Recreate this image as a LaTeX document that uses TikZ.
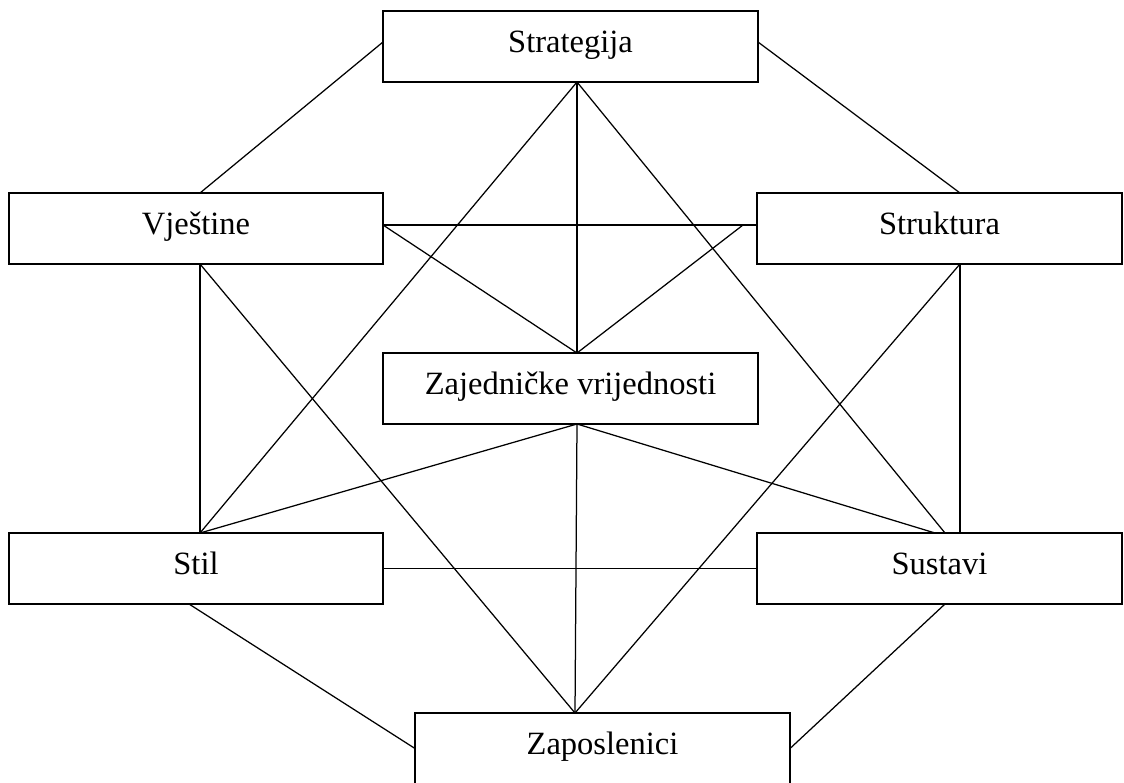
\documentclass[tikz,border=0pt]{standalone}
\usepackage{fontspec}
\setmainfont{Liberation Serif}
\pgfdeclarelayer{background}
\pgfsetlayers{background,main}
\begin{document}
\begin{tikzpicture}[x=1pt,y=-1pt,
  box/.style={draw, line width=1.8pt, fill=white, inner sep=0pt, outer sep=0pt,
    minimum height=71pt, text height=22pt, text depth=11pt,
    font=\fontsize{32.5}{38}\selectfont},
  link/.style={line width=1.25pt}]
\useasboundingbox (0,0) rectangle (1124,782);
\path
  (570.5,46.5) node[box, minimum width=375pt] (strat) {Strategija}
  (196,228.5)  node[box, minimum width=374pt] (vjest) {Vještine}
  (939.5,228.5) node[box, minimum width=365pt] (strukt) {Struktura}
  (570.5,388.5) node[box, minimum width=375pt] (zaj) {Zajedničke vrijednosti}
  (196,568.5)  node[box, minimum width=374pt] (stil) {Stil}
  (939.5,568.5) node[box, minimum width=365pt] (sus) {Sustavi}
  (602.5,748.5) node[box, minimum width=375pt] (zap) {Zaposlenici};
% connection points
\coordinate (sb) at ([xshift=6.5pt]strat.south);
\coordinate (zt) at ([xshift=6.5pt]zaj.north);
\coordinate (zb) at ([xshift=6.5pt]zaj.south);
\coordinate (ve) at ([yshift=3.5pt]vjest.east);
\coordinate (sw) at ([yshift=3.5pt]strukt.west);
\coordinate (sw2) at ([xshift=-14pt,yshift=3.5pt]strukt.west);
\coordinate (vb) at ([xshift=4pt]vjest.south);
\coordinate (stb) at ([xshift=20.5pt]strukt.south);
\coordinate (st) at ([xshift=4pt]stil.north);
\coordinate (sut) at ([xshift=20.5pt]sus.north);
\coordinate (sut1) at ([xshift=5.5pt]sus.north);
\coordinate (sut2) at ([xshift=-4.5pt]sus.north);
\coordinate (zpt) at ([xshift=-27.5pt]zap.north);
\coordinate (sbl) at ([xshift=-7pt]stil.south);
\coordinate (sub) at ([xshift=5.5pt]sus.south);
\begin{pgfonlayer}{background}
\draw[link] ([yshift=4.5pt]strat.west) -- ([xshift=4pt]vjest.north);
\draw[link] ([yshift=4.5pt]strat.east) -- ([xshift=20.5pt]strukt.north);
\draw[link] (sb) -- (zt);
\draw[link] (sb) -- (st);
\draw[link] (sb) -- (sut1);
\draw[link] (ve) -- (sw);
\draw[link] (ve) -- (zt);
\draw[link] (sw2) -- (zt);
\draw[link] (vb) -- (st);
\draw[link] (vb) -- (zpt);
\draw[link] (stb) -- (sut);
\draw[link] (stb) -- (zpt);
\draw[link] (zb) -- (st);
\draw[link] (zb) -- (sut2);
\draw[link] (zb) -- (zpt);
\draw[link] (stil.east) -- (sus.west);
\draw[link] (sbl) -- (zap.west);
\draw[link] (sub) -- (zap.east);
\end{pgfonlayer}
\end{tikzpicture}
\end{document}
